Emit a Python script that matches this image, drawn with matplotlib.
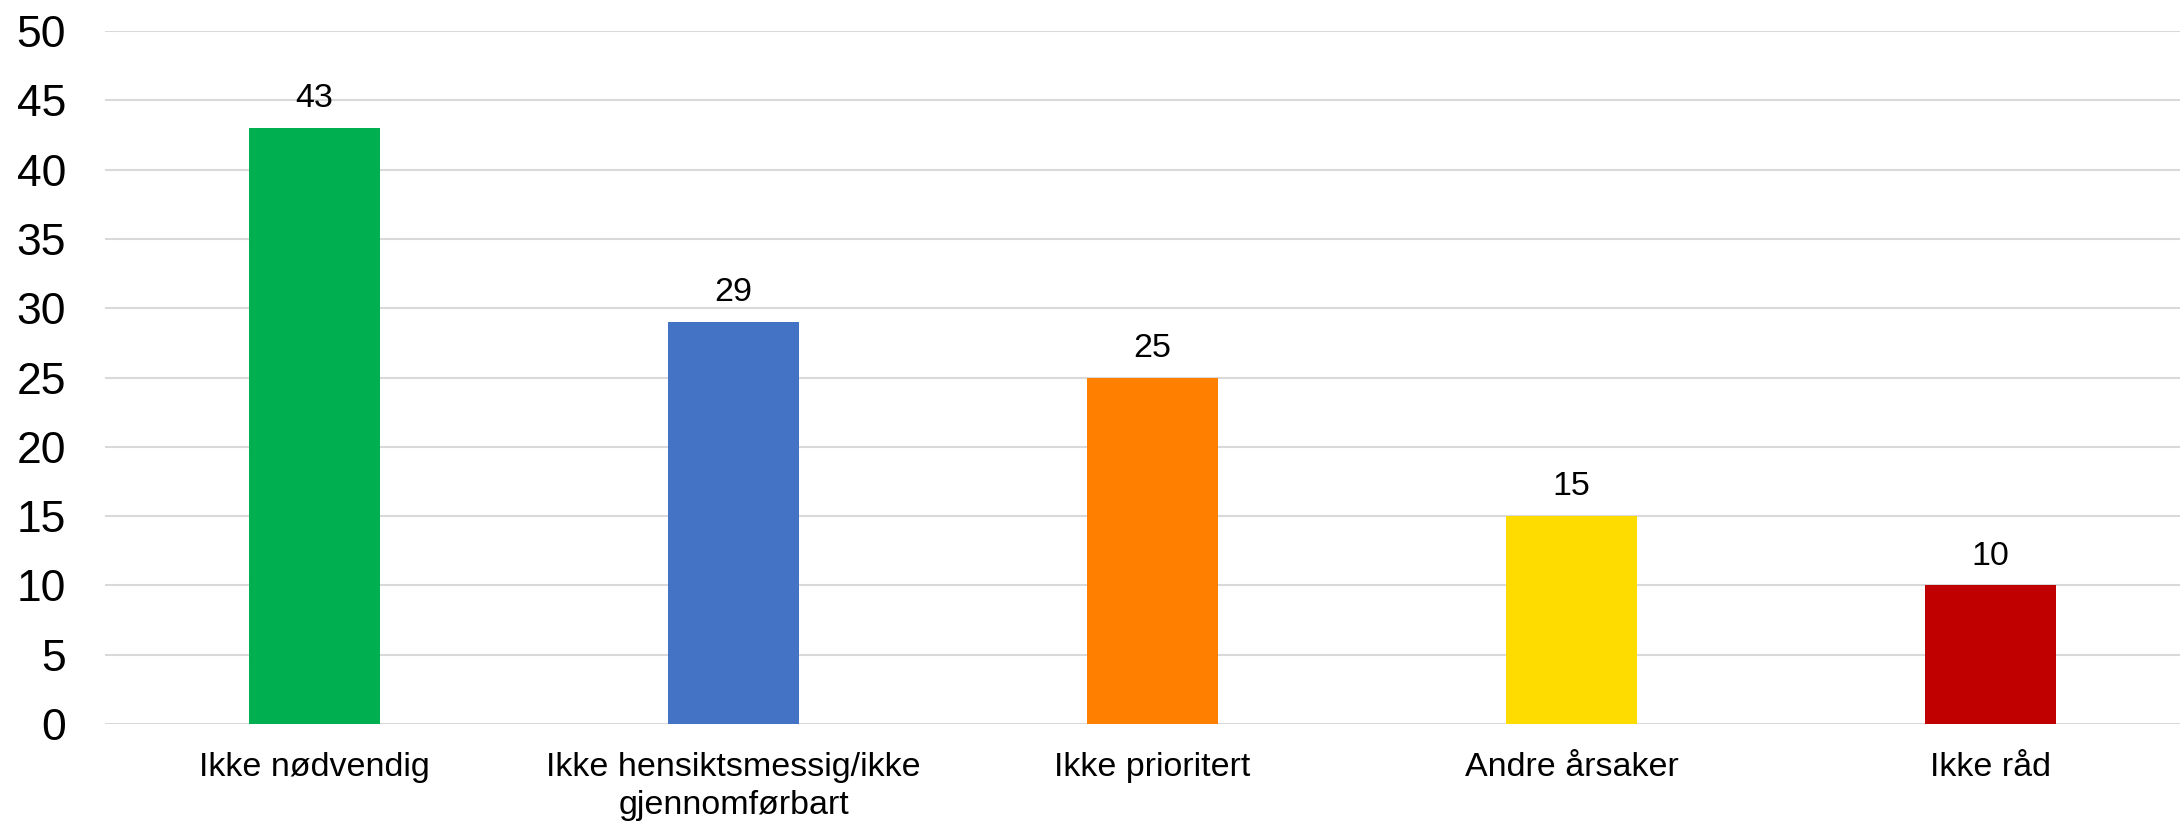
import matplotlib
matplotlib.use("Agg")
import matplotlib.pyplot as plt

categories = ["Ikke nødvendig", "Ikke hensiktsmessig/ikke\ngjennomførbart", "Ikke prioritert", "Andre årsaker", "Ikke råd"]
values = [43, 29, 25, 15, 10]
colors = ["#00B050", "#4472C4", "#FF8000", "#FFDC00", "#C00000"]
yticks = [0, 5, 10, 15, 20, 25, 30, 35, 40, 45, 50]

plt.rcParams['font.family'] = ['Liberation Sans', 'DejaVu Sans']

W, H = 2180, 823
fig = plt.figure(figsize=(W/100, H/100), dpi=100)
left = 105 / W
right = 2200 / W
bottom = 1 - 724 / H
top = 1 - 31 / H
ax = fig.add_axes([left, bottom, right - left, top - bottom])

x = list(range(len(categories)))
bars = ax.bar(x, values, width=0.313, color=colors, zorder=3)
for xi, v in zip(x, values):
    ax.annotate(str(v), (xi, v), xytext=(0, 10), textcoords="offset points",
                ha="center", va="bottom", fontsize=24.5, color="#000000")

ax.set_xlim(-0.5, len(categories) - 0.5)
ax.set_ylim(0, 50)
ax.set_yticks(yticks)
ax.set_yticklabels([str(t) for t in yticks], fontsize=32)
ax.set_xticks(x)
ax.set_xticklabels(categories, fontsize=24.5, linespacing=1.3)
ax.tick_params(axis="y", length=0, pad=28)
ax.tick_params(axis="x", length=0, pad=20)
ax.grid(axis="y", color="#d9d9d9", linewidth=1.5, zorder=0)
for s in ax.spines.values():
    s.set_visible(False)
ax.set_facecolor("white")
fig.savefig("out.png", dpi=100, facecolor="white")
